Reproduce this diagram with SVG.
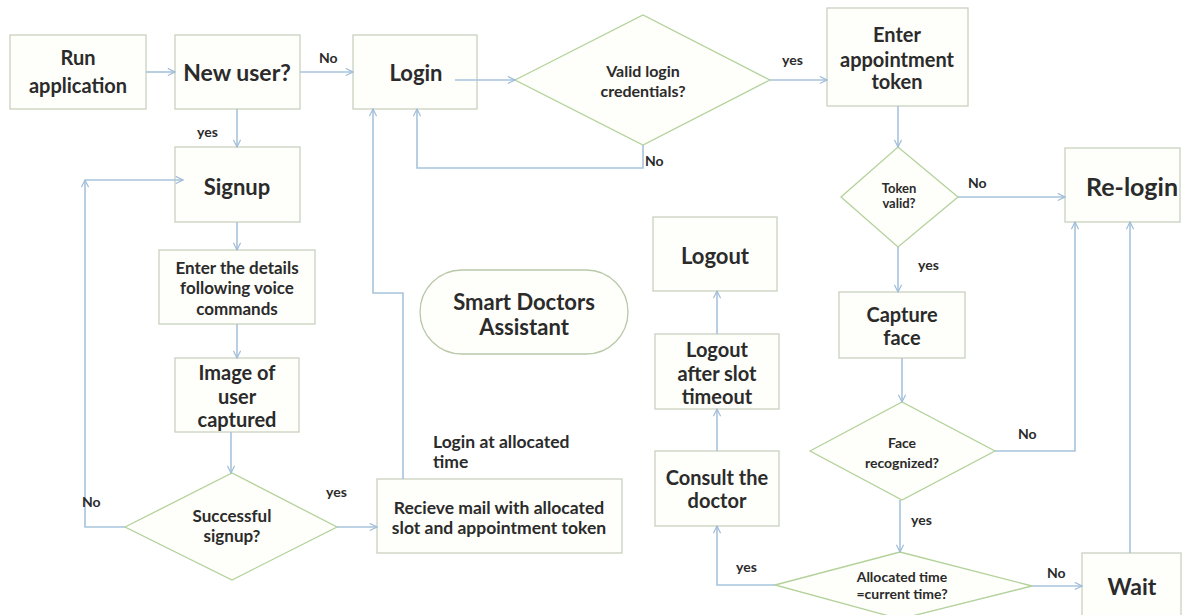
<svg xmlns="http://www.w3.org/2000/svg" width="1182" height="615" viewBox="0 0 1182 615">
<defs>
<marker id="ah" viewBox="0 0 10 10" refX="9" refY="5" markerWidth="9" markerHeight="9" markerUnits="userSpaceOnUse" orient="auto">
<path d="M1,1 L9,5 L1,9" fill="none" stroke="#9fbcd8" stroke-width="1.3"/>
</marker>
</defs>
<style>
.box{fill:#fefefa;stroke:#c9d1c0;stroke-width:1.3}
.dia{fill:#fefefa;stroke:#b3d29a;stroke-width:1.3}
.t{font-family:Lato,"Liberation Sans",sans-serif;font-weight:700;fill:#2b2b2b;text-anchor:middle}
.lb{font-family:Lato,"Liberation Sans",sans-serif;font-weight:700;fill:#2b2b2b;font-size:14px}
.c{fill:none;stroke:#a7c3dd;stroke-width:1.6}
.ca{fill:none;stroke:#a7c3dd;stroke-width:1.6;marker-end:url(#ah)}
</style>
<rect width="1182" height="615" fill="#ffffff"/>

<g id="run"><rect class="box" x="10" y="35" width="136" height="74"/><text class="t" font-size="20" x="78" y="65">Run</text><text class="t" font-size="20" x="78" y="93">application</text></g>
<g id="newuser"><rect class="box" x="175" y="35" width="125" height="74"/><text class="t" font-size="23" x="237" y="81">New user?</text></g>
<g id="login"><rect class="box" x="353" y="35" width="124" height="74"/><text class="t" font-size="22" x="416" y="81">Login</text></g>
<g id="validlogin"><polygon class="dia" points="515,80 643,15 770,80 643,145"/><text class="t" font-size="16" x="643" y="77">Valid login</text><text class="t" font-size="16" x="643" y="97">credentials?</text></g>
<g id="entertoken"><rect class="box" x="827" y="8" width="141" height="98"/><text class="t" font-size="20" x="897" y="42">Enter</text><text class="t" font-size="20" x="897" y="67">appointment</text><text class="t" font-size="20" x="897" y="89">token</text></g>
<g id="tokenvalid"><polygon class="dia" points="841,197 898,147 958,197 898,247"/><text class="t" font-size="13" x="899" y="193">Token</text><text class="t" font-size="13" x="899" y="208">valid?</text></g>
<g id="relogin"><rect class="box" x="1065" y="148" width="115" height="74"/><text class="t" font-size="25" x="1132" y="196">Re-login</text></g>
<g id="signup"><rect class="box" x="175" y="147" width="125" height="75"/><text class="t" font-size="22" x="237" y="195">Signup</text></g>
<g id="details"><rect class="box" x="159" y="250" width="156" height="74"/><text class="t" font-size="17" x="237" y="274">Enter the details</text><text class="t" font-size="17" x="237" y="294">following voice</text><text class="t" font-size="17" x="237" y="315">commands</text></g>
<g id="image"><rect class="box" x="175" y="358" width="124" height="74"/><text class="t" font-size="20" x="237" y="380">Image of</text><text class="t" font-size="20" x="237" y="404">user</text><text class="t" font-size="20" x="237" y="427">captured</text></g>
<g id="successful"><polygon class="dia" points="125,527 232,473 337,527 232,580"/><text class="t" font-size="17" x="232" y="522">Successful</text><text class="t" font-size="17" x="232" y="542">signup?</text></g>
<g id="recieve"><rect class="box" x="377" y="479" width="245" height="74"/><text class="t" font-size="17.5" x="499" y="514">Recieve mail with allocated</text><text class="t" font-size="17.5" x="499" y="534">slot and appointment token</text></g>
<g id="smart"><rect x="420" y="270" width="208" height="84" rx="42" ry="42" fill="#fefefa" stroke="#b8c8a8" stroke-width="1.3"/><text class="t" font-size="22" x="524" y="310">Smart Doctors</text><text class="t" font-size="22" x="524" y="335">Assistant</text></g>
<g id="logout"><rect class="box" x="653" y="217" width="124" height="74"/><text class="t" font-size="22" x="715" y="264">Logout</text></g>
<g id="timeout"><rect class="box" x="655" y="334" width="124" height="75"/><text class="t" font-size="20" x="717" y="357">Logout</text><text class="t" font-size="20" x="717" y="381">after slot</text><text class="t" font-size="20" x="717" y="404">timeout</text></g>
<g id="consult"><rect class="box" x="655" y="451" width="124" height="75"/><text class="t" font-size="20" x="717" y="485">Consult the</text><text class="t" font-size="20" x="717" y="508">doctor</text></g>
<g id="capture"><rect class="box" x="839" y="292" width="126" height="66"/><text class="t" font-size="20" x="902" y="322">Capture</text><text class="t" font-size="20" x="902" y="345">face</text></g>
<g id="face"><polygon class="dia" points="810,451 902,402 995,451 902,500"/><text class="t" font-size="14" x="902" y="448">Face</text><text class="t" font-size="14" x="902" y="468">recognized?</text></g>
<g id="alloc"><polygon class="dia" points="775,585 900,552 1032,586 900,619"/><text class="t" font-size="14" x="902" y="582">Allocated time</text><text class="t" font-size="14" x="902" y="599">=current time?</text></g>
<g id="wait"><rect class="box" x="1082" y="553" width="99" height="72"/><text class="t" font-size="23" x="1132" y="595">Wait</text></g>
<g id="note"><text class="lb" style="font-size:17.5px" x="433" y="448">Login at allocated</text><text class="lb" style="font-size:17.5px" x="433" y="468">time</text></g>

<g id="connectors">
<path class="ca" d="M146,72 H175"/>
<path class="ca" d="M300,72 H353"/>
<path class="ca" d="M237,109 V147"/>
<path class="ca" d="M455,80 H515"/>
<path class="ca" d="M770,80 H827"/>
<path class="ca" d="M643,145 V168 H417 V109"/>
<path class="ca" d="M898,106 V147"/>
<path class="ca" d="M958,197 H1065"/>
<path class="ca" d="M898,247 V292"/>
<path class="ca" d="M902,358 V402"/>
<path class="ca" d="M995,451 H1075 V222"/>
<path class="ca" d="M900,500 V552"/>
<path class="ca" d="M775,585 H717 V526"/>
<path class="ca" d="M1032,586 H1082"/>
<path class="ca" d="M1130,553 V222"/>
<path class="ca" d="M717,451 V409"/>
<path class="ca" d="M717,334 V291"/>
<path class="ca" d="M237,222 V250"/>
<path class="ca" d="M237,324 V358"/>
<path class="ca" d="M231,432 V473"/>
<path class="ca" d="M125,527 H85 V180"/>
<path class="ca" d="M85,180 H183"/>
<path class="ca" d="M337,527 H377"/>
<path class="ca" d="M403,479 V293 H373 V109"/>
<text class="lb" x="319" y="63">No</text>
<text class="lb" x="197" y="137">yes</text>
<text class="lb" x="782" y="65">yes</text>
<text class="lb" x="645" y="166">No</text>
<text class="lb" x="968" y="188">No</text>
<text class="lb" x="918" y="270">yes</text>
<text class="lb" x="1018" y="439">No</text>
<text class="lb" x="911" y="525">yes</text>
<text class="lb" x="736" y="572">yes</text>
<text class="lb" x="1047" y="578">No</text>
<text class="lb" x="82" y="507">No</text>
<text class="lb" x="326" y="497">yes</text>
</g>
</svg>
